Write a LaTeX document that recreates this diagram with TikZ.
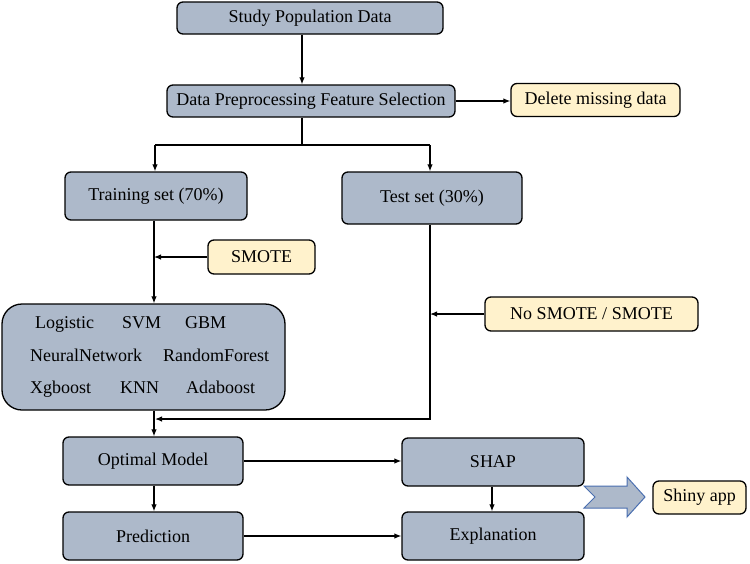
\documentclass[tikz,border=0pt]{standalone}
\usepackage{fontspec}
\setmainfont{Liberation Serif}
\usetikzlibrary{arrows.meta}
\definecolor{boxblue}{HTML}{ADB9CA}
\definecolor{cream}{HTML}{FFF2CC}
\definecolor{arrblue}{HTML}{4A6FB0}
\begin{document}
\begin{tikzpicture}[x=1pt,y=-1pt,
  base/.style={draw=black,line width=1.3pt,rounded corners=6pt,inner sep=0pt,font=\fontsize{18}{21}\selectfont},
  bluebox/.style={base,fill=boxblue},
  creambox/.style={base,fill=cream},
  arr/.style={line width=1.2pt,-{Latex[length=7pt,width=5.5pt]}},
  ln/.style={line width=1.2pt},
  mtxt/.style={anchor=base west,inner sep=0pt,font=\fontsize{18}{21}\selectfont}]
\useasboundingbox (0,0) rectangle (750,563);

\node[bluebox,minimum width=266pt,minimum height=32pt] (study) at (310,18) {Study Population Data};
\node[bluebox,minimum width=288pt,minimum height=32pt] (prep) at (311,101) {Data Preprocessing Feature Selection};
\node[creambox,minimum width=169pt,minimum height=33pt] (delmiss) at (595.5,100) {Delete missing data};
\node[bluebox,minimum width=182pt,minimum height=48pt] (train) at (156,196) {Training set (70\%)};
\node[bluebox,minimum width=180pt,minimum height=52pt] (test) at (432,198) {Test set (30\%)};
\node[creambox,minimum width=107pt,minimum height=34pt] (smote) at (261.5,257) {SMOTE};
\node[bluebox,rounded corners=20pt,minimum width=283pt,minimum height=106pt] (models) at (143.5,357) {};
\node[creambox,minimum width=213pt,minimum height=34pt] (nosmote) at (591.5,314) {No SMOTE / SMOTE};
\node[bluebox,minimum width=180pt,minimum height=48pt] (optimal) at (153,461) {Optimal Model};
\node[bluebox,minimum width=182pt,minimum height=48pt] (shap) at (493,462) {SHAP};
\node[bluebox,minimum width=180pt,minimum height=48pt] (pred) at (153,536) {Prediction};
\node[bluebox,minimum width=182pt,minimum height=48pt] (expl) at (493,536) {Explanation};
\node[creambox,minimum width=93pt,minimum height=33pt] (shiny) at (699.5,497.5) {Shiny app};

% model names
\node[mtxt] (m1) at (35,328) {Logistic};
\node[mtxt] (m2) at (122,328) {SVM};
\node[mtxt] (m3) at (185,328) {GBM};
\node[mtxt] (m4) at (30,361) {NeuralNetwork};
\node[mtxt] (m5) at (163,361) {RandomForest};
\node[mtxt] (m6) at (30,393) {Xgboost};
\node[mtxt] (m7) at (120,393) {KNN};
\node[mtxt] (m8) at (186,393) {Adaboost};

% helper coordinates
\coordinate (cx1) at (302,0);
\coordinate (sL) at (155,145);
\coordinate (sR) at (430,145);
\coordinate (vL) at (154,0);
\coordinate (vR) at (430,0);
\coordinate (jB) at (155,419);
\coordinate (vS) at (492,0);

\draw[arr] (study.south -| cx1) -- (prep.north -| cx1);
\draw[arr] (prep.east) -- (delmiss.west |- prep.east);
\draw[ln] (prep.south -| cx1) -- (cx1 |- sL);
\draw[ln] (sL) -- (sR);
\draw[arr] (sL) -- (train.north -| sL);
\draw[arr] (sR) -- (test.north -| sR);
\draw[arr] (train.south -| vL) -- (models.north -| vL);
\draw[arr] (smote.west) -- (vL |- smote.west);
\draw[arr] (test.south -| vR) |- (jB);
\draw[arr] (nosmote.west) -- (vR |- nosmote.west);
\draw[arr] (models.south -| vL) -- (optimal.north -| vL);
\draw[arr] (optimal.east) -- (shap.west |- optimal.east);
\draw[arr] (optimal.south -| vL) -- (pred.north -| vL);
\draw[arr] (shap.south -| vS) -- (expl.north -| vS);
\draw[arr] (pred.east) -- (expl.west);

% block arrow
\draw[draw=arrblue,fill=boxblue,line width=1pt,line join=miter]
  (584,486) -- (627,486) -- (627,477) -- (645,497) -- (627,517) -- (627,508) -- (584,508) -- (595,497) -- cycle;
\end{tikzpicture}
\end{document}
